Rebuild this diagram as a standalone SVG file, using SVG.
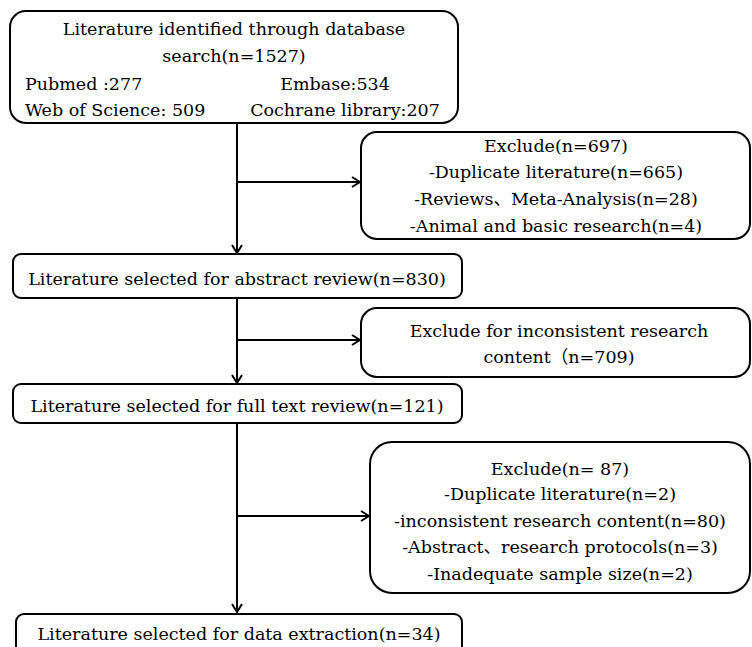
<svg xmlns="http://www.w3.org/2000/svg" width="752" height="647" viewBox="0 0 752 647">
<defs>
<style>
.box{fill:#fff;stroke:#000;stroke-width:2}
text{font-family:'DejaVu Serif','Liberation Serif','Noto Serif',serif;font-size:17.5px;fill:#000}
.c{text-anchor:middle}
.cjk{font-family:'Noto Sans CJK SC',sans-serif}
.ln{stroke:#000;stroke-width:2;fill:none}
</style>
<marker id="ah" viewBox="0 0 12 12" refX="11" refY="6" markerWidth="12" markerHeight="12" markerUnits="userSpaceOnUse" orient="auto">
<polyline points="3,1 11,6 3,11" fill="none" stroke="#000" stroke-width="2"/>
</marker>
</defs>
<rect width="752" height="647" fill="#fff"/>
<g id="connectors">
<line class="ln" x1="237" y1="124" x2="237" y2="253" marker-end="url(#ah)"/>
<line class="ln" x1="237" y1="182" x2="360" y2="182" marker-end="url(#ah)"/>
<line class="ln" x1="237" y1="298" x2="237" y2="383" marker-end="url(#ah)"/>
<line class="ln" x1="237" y1="340" x2="360" y2="340" marker-end="url(#ah)"/>
<line class="ln" x1="237" y1="423" x2="237" y2="612" marker-end="url(#ah)"/>
<line class="ln" x1="237" y1="516" x2="369" y2="516" marker-end="url(#ah)"/>
</g>
<g id="identified">
<rect class="box" x="10" y="11" width="448" height="112" rx="16"/>
<text class="c" x="234" y="35">Literature identified through database</text>
<text class="c" x="234" y="62">search(n=1527)</text>
<text x="25" y="90">Pubmed :277</text>
<text class="c" x="335" y="90">Embase:534</text>
<text x="25" y="116">Web of Science: 509</text>
<text class="c" x="345" y="116">Cochrane library:207</text>
</g>
<g id="exclude1">
<rect class="box" x="361" y="132" width="389" height="107" rx="16"/>
<text class="c" x="556" y="152">Exclude(n=697)</text>
<text class="c" x="556" y="178">-Duplicate literature(n=665)</text>
<text class="c" x="556" y="205">-Reviews<tspan class="cjk">、</tspan>Meta-Analysis(n=28)</text>
<text class="c" x="556" y="232">-Animal and basic research(n=4)</text>
</g>
<g id="abstract">
<rect class="box" x="13" y="254" width="449" height="44" rx="8"/>
<text class="c" x="237" y="285">Literature selected for abstract review(n=830)</text>
</g>
<g id="exclude2">
<rect class="box" x="361" y="308" width="389" height="69" rx="16"/>
<text class="c" x="559" y="337">Exclude for inconsistent research</text>
<text class="c" x="559" y="363">content<tspan class="cjk">（</tspan>n=709)</text>
</g>
<g id="fulltext">
<rect class="box" x="13" y="384" width="449" height="39" rx="8"/>
<text class="c" x="237" y="412">Literature selected for full text review(n=121)</text>
</g>
<g id="exclude3">
<rect class="box" x="370" y="442" width="380" height="151" rx="22"/>
<text class="c" x="560" y="475">Exclude(n= 87)</text>
<text class="c" x="560" y="500">-Duplicate literature(n=2)</text>
<text class="c" x="560" y="527">-inconsistent research content(n=80)</text>
<text class="c" x="560" y="553">-Abstract<tspan class="cjk">、</tspan>research protocols(n=3)</text>
<text class="c" x="560" y="580">-Inadequate sample size(n=2)</text>
</g>
<g id="extraction">
<rect class="box" x="16" y="614" width="446" height="42" rx="8"/>
<text class="c" x="239" y="640">Literature selected for data extraction(n=34)</text>
</g>
</svg>
